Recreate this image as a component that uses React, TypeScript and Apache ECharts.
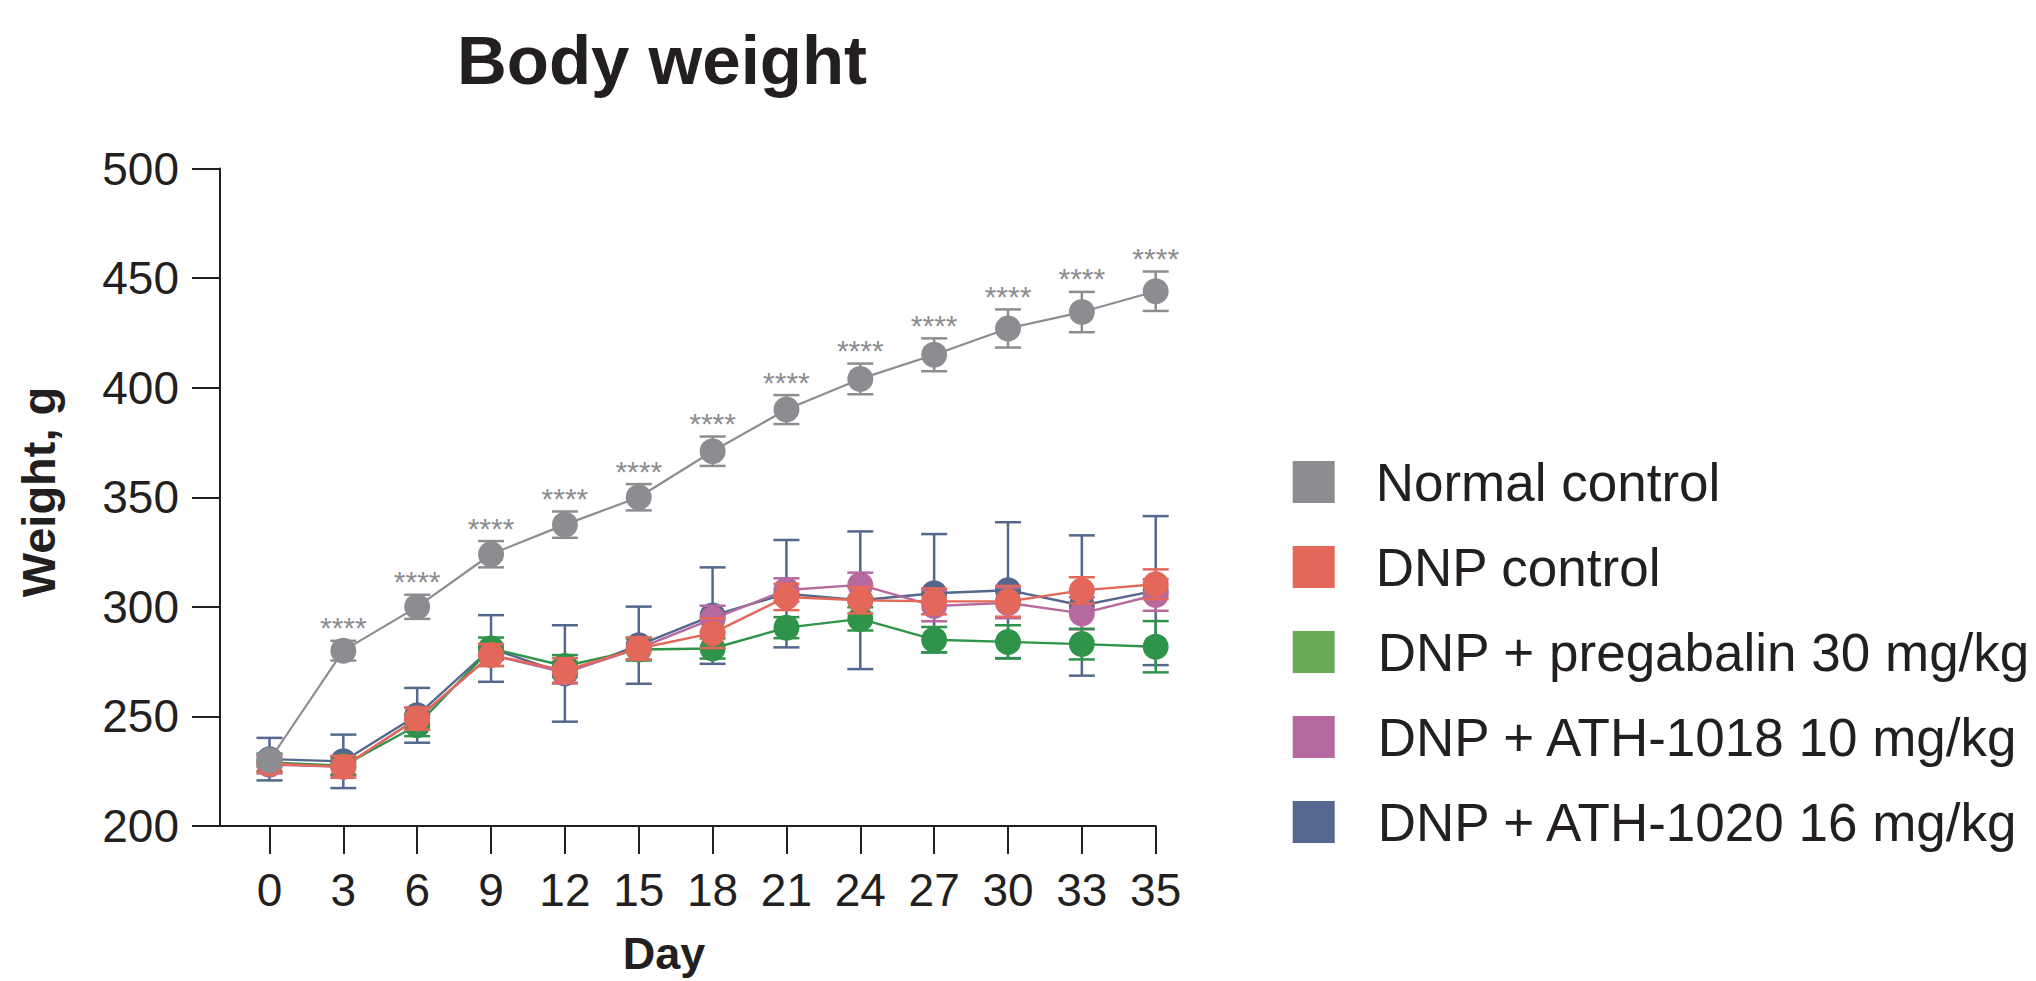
import React, { useEffect, useRef } from 'react';
import * as echarts from 'echarts';

const FONT = '"Liberation Sans", Arial, Helvetica, sans-serif';
const INK = '#231F20';

const days = ['0', '3', '6', '9', '12', '15', '18', '21', '24', '27', '30', '33', '35'];

const normalMean = [230, 280, 300, 324, 337.5, 350, 371, 390, 404, 415, 427, 434.5, 444];
const normalErr = [3, 4.5, 5.5, 6, 6, 6, 6.7, 6.6, 7, 7.5, 8.7, 9.2, 9];
const significance = ['', '****', '****', '****', '****', '****', '****', '****', '****', '****', '****', '****', '****'];

const dnpMean = [228.5, 227, 249, 278, 271, 281, 288, 304.5, 303, 302.5, 302.5, 307.5, 310.3];
const dnpErr = [4, 5, 5, 5, 5.6, 5, 6.8, 6, 6, 5.9, 7, 6, 6.8];

const pregabalinMean = [229, 227.5, 246, 281, 273, 280.5, 281, 290.5, 294.5, 285, 284, 283, 281.8];
const pregabalinErr = [4, 4, 5, 5, 5, 5, 4.6, 4.8, 5.3, 5.8, 7.6, 7, 11.7];

const ath1018Mean = [228, 227, 249, 278, 270, 281, 294.5, 307.7, 310, 300.4, 301.8, 297, 305.4];
const ath1018Err = [4, 4, 5, 5, 5, 5, 6, 5.3, 5.6, 7, 7, 7.3, 7.2];

const ath1020Mean = [230.5, 229.5, 250.5, 281, 269.6, 282.5, 296, 306, 303, 306.2, 307.6, 300.6, 307.4];
const ath1020Err = [9.7, 12.2, 12.5, 15.2, 22, 17.6, 22, 24.5, 31.4, 27, 31, 32, 34];

const legendOrder = [
  'Normal control',
  'DNP control',
  'DNP + pregabalin 30 mg/kg',
  'DNP + ATH-1018 10 mg/kg',
  'DNP + ATH-1020 16 mg/kg',
];

// drawing order: bottom to top
const groups = [
  { name: 'DNP + ATH-1020 16 mg/kg', mean: ath1020Mean, err: ath1020Err, color: '#53688C', legend: '#53688C', width: 2.4, stars: null as string[] | null },
  { name: 'DNP + ATH-1018 10 mg/kg', mean: ath1018Mean, err: ath1018Err, color: '#B5699F', legend: '#B5699F', width: 2.4, stars: null },
  { name: 'DNP + pregabalin 30 mg/kg', mean: pregabalinMean, err: pregabalinErr, color: '#2F9449', legend: '#68AA56', width: 2.4, stars: null },
  { name: 'DNP control', mean: dnpMean, err: dnpErr, color: '#E4685A', legend: '#E4685A', width: 2.4, stars: null },
  { name: 'Normal control', mean: normalMean, err: normalErr, color: '#8C8D91', legend: '#8C8D91', width: 2.2, stars: significance },
];

export default function App() {
  const ref = useRef<HTMLDivElement>(null);

  useEffect(() => {
    if (!ref.current) return;
    const chart = echarts.init(ref.current, undefined, { renderer: 'svg' });

    const series: any[] = [];
    groups.forEach((g, k) => {
      const stars = g.stars;
      series.push({
        type: 'custom',
        z: k * 2 + 1,
        silent: true,
        clip: false,
        encode: { x: 0, y: 1 },
        data: g.mean.map((m, i) => [i, m, g.err[i]]),
        renderItem: (params: any, api: any) => {
          const i = api.value(0);
          const m = api.value(1);
          const e = api.value(2);
          const top = api.coord([i, m + e]);
          const bot = api.coord([i, m - e]);
          const x = top[0];
          const st = { stroke: g.color, lineWidth: 2.5 };
          const children: any[] = [
            { type: 'line', shape: { x1: x, y1: top[1], x2: x, y2: bot[1] }, style: st },
            { type: 'line', shape: { x1: x - 13, y1: top[1], x2: x + 13, y2: top[1] }, style: st },
            { type: 'line', shape: { x1: x - 13, y1: bot[1], x2: x + 13, y2: bot[1] }, style: st },
          ];
          if (stars && stars[params.dataIndex]) {
            children.push({
              type: 'text',
              x,
              y: top[1] - 13,
              style: {
                text: stars[params.dataIndex],
                fill: g.color,
                font: `30px ${FONT}`,
                align: 'center',
                verticalAlign: 'middle',
              },
            });
          }
          return { type: 'group', children };
        },
      });
      series.push({
        type: 'line',
        name: g.name,
        z: k * 2 + 2,
        silent: true,
        data: g.mean.map((m, i) => [i, m]),
        symbol: 'circle',
        symbolSize: 26,
        showSymbol: true,
        lineStyle: { color: g.color, width: g.width },
        itemStyle: { color: g.color, borderWidth: 0 },
        emphasis: { disabled: true },
      });
    });

    const axisLineStyle = { color: INK, width: 2 };
    const tickPositions = days.map((_, i) => i);

    const option: any = {
      animation: false,
      backgroundColor: '#ffffff',
      grid: { left: 220, top: 168.5, width: 935.7, height: 657.5, containLabel: false },
      xAxis: {
        type: 'value',
        min: -0.67,
        max: 12,
        axisLine: { show: true, onZero: false, lineStyle: axisLineStyle },
        axisTick: { show: true, length: 28, lineStyle: axisLineStyle, customValues: tickPositions },
        axisLabel: {
          customValues: tickPositions,
          formatter: (v: number) => days[Math.round(v)] ?? '',
          fontSize: 46,
          fontFamily: FONT,
          color: INK,
          margin: 41,
        },
        splitLine: { show: false },
      },
      yAxis: {
        type: 'value',
        min: 200,
        max: 500,
        interval: 50,
        axisLine: { show: true, onZero: false, lineStyle: axisLineStyle },
        axisTick: { show: true, length: 28, lineStyle: axisLineStyle },
        axisLabel: { fontSize: 46, fontFamily: FONT, color: INK, margin: 41 },
        splitLine: { show: false },
      },
      legend: {
        orient: 'vertical',
        left: 1292.7,
        top: 455.5,
        padding: 0,
        itemWidth: 42,
        itemHeight: 42,
        itemGap: 32,
        icon: 'rect',
        selectedMode: false,
        textStyle: { fontSize: 53, fontFamily: FONT, color: INK, padding: [0, 0, 0, 36] },
        data: legendOrder.map((n, idx) => {
          const g = groups.find((gg) => gg.name === n)!;
          return {
            name: n,
            icon: 'rect',
            itemStyle: { color: g.legend, borderWidth: 0 },
            lineStyle: { width: 0, opacity: 0 },
            textStyle: idx >= 2 ? { padding: [0, 0, 0, 38] } : undefined,
          };
        }),
      },
      graphic: [
        {
          type: 'text',
          x: 662,
          y: 60,
          style: { text: 'Body weight', font: `bold 69px ${FONT}`, fill: INK, align: 'center', verticalAlign: 'middle' },
        },
        {
          type: 'text',
          x: 38.5,
          y: 492,
          rotation: Math.PI / 2,
          style: { text: 'Weight, g', font: `bold 47px ${FONT}`, fill: INK, align: 'center', verticalAlign: 'middle' },
        },
        {
          type: 'text',
          x: 664,
          y: 953,
          style: { text: 'Day', font: `bold 45px ${FONT}`, fill: INK, align: 'center', verticalAlign: 'middle' },
        },
      ],
      series,
    };

    chart.setOption(option);
    return () => chart.dispose();
  }, []);

  return (
    <div
      ref={ref}
      style={{ position: 'absolute', left: 0, top: 0, width: 2036, height: 981, background: '#fff' }}
    />
  );
}
